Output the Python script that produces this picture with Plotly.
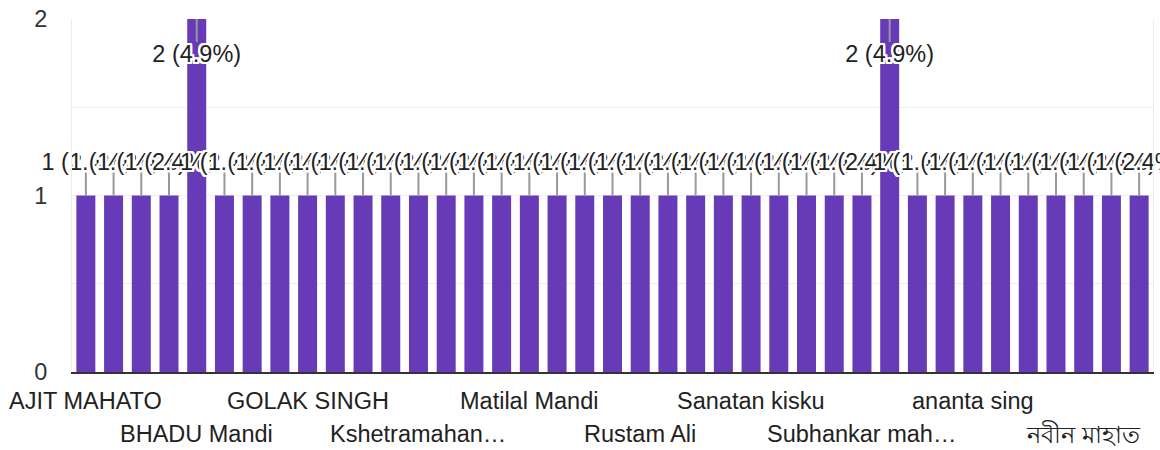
import plotly.graph_objects as go

# ---- data ----
names = [
    "AJIT MAHATO", "AMAL MANDI", "ANIL HANSDA", "ASHOK MAHATO",
    "BHADU Mandi", "BIMAL MURMU", "BISWANATH SOREN", "DILIP MAHATO",
    "GOLAK SINGH", "GOPAL MANDI", "HARIPADA MAHATO", "JAGANNATH HANSDA",
    "Kshetramahan Mahato", "LAKSHMAN MURMU", "Mangal Soren", "Manik Mahato",
    "Matilal Mandi", "Nirmal Hansda", "Paresh Mahato", "Ramesh Murmu",
    "Rustam Ali", "Sahadeb Mandi", "Samir Mahato", "Sanatan Hansda",
    "Sanatan kisku", "Shyamal Mahato", "Sonaram Murmu", "Sridam Mandi",
    "Subhankar mahato", "Sudhir Mahato", "Sukumar Hansda", "Tapan Mandi",
    "ananta sing", "bablu mahato", "gurupada mandi", "sanjit murmu",
    "নবীন মাহাত", "পরেশ মুর্মু", "রমেশ মাণ্ডি",
]
counts = [
    1, 1, 1, 1, 2, 1, 1, 1, 1, 1, 1, 1, 1, 1, 1, 1, 1, 1, 1, 1,
    1, 1, 1, 1, 1, 1, 1, 1, 1, 2, 1, 1, 1, 1, 1, 1, 1, 1, 1,
]
total_responses = 41
tick_names = ["AJIT MAHATO", "BHADU Mandi", "GOLAK SINGH", "Kshetramahan…",
              "Matilal Mandi", "Rustam Ali", "Sanatan kisku", "Subhankar mah…",
              "ananta sing", "নবীন মাহাত"]
tick_positions = [0, 4, 8, 12, 16, 20, 24, 28, 32, 36]
y_ticks = [0, 0.5, 1, 1.5, 2]
y_ticktext = ["0", "", "1", "", "2"]

PURPLE = "#673AB7"
FONT = "Liberation Sans, Arial, sans-serif"
FS = 23.5
ymax = max(counts)

labels = [f"{c} ({c / total_responses * 100:.1f}%)" for c in counts]

fig = go.Figure()
fig.add_trace(go.Bar(x=names, y=counts, marker=dict(color=PURPLE, line=dict(width=0)),
                     hoverinfo="skip"))

# stems and label positions (outside for short bars, flipped inside for bars reaching the top)
stem_x, stem_y, lab_x, lab_y, lab_t = [], [], [], [], []
STEM = 0.13
LAB_OUT = 0.18
LAB_IN = 0.212
for n, c, t in zip(names, counts, labels):
    if c >= ymax:
        stem_x += [n, n, None]
        stem_y += [c, c - STEM, None]
        lab_x.append(n); lab_y.append(c - LAB_IN); lab_t.append(t)
    else:
        stem_x += [n, n, None]
        stem_y += [c, c + STEM, None]
        lab_x.append(n); lab_y.append(c + LAB_OUT); lab_t.append(t)

fig.add_trace(go.Scatter(x=stem_x, y=stem_y, mode="lines",
                         line=dict(color="#999999", width=2),
                         hoverinfo="skip", cliponaxis=False))
halo = ", ".join(f"{dx}px {dy}px 0 #fff" for dx in (-2, -1, 0, 1, 2) for dy in (-2, -1, 0, 1, 2))
fig.add_trace(go.Scatter(x=lab_x, y=lab_y, mode="text", text=lab_t,
                         textposition="middle center",
                         textfont=dict(family=FONT, size=FS, color="#222222", shadow=halo),
                         hoverinfo="skip", cliponaxis=False))

for i, (p, t) in enumerate(zip(tick_positions, tick_names)):
    fig.add_annotation(x=names[p], xref="x", y=0, yref="paper", yanchor="middle",
                       yshift=-29 if i % 2 == 0 else -62, showarrow=False, text=t,
                       font=dict(family=FONT, size=FS, color="#222222"))

fig.update_layout(
    width=1160, height=450,
    margin=dict(l=72, r=6, t=15, b=78),
    paper_bgcolor="white", plot_bgcolor="white",
    showlegend=False, bargap=0.315,
    font=dict(family=FONT, size=FS, color="#222222"),
    xaxis=dict(type="category", showticklabels=False, showgrid=False, zeroline=False,
               range=[-0.5, len(names) - 0.5],
               showline=True, linecolor="#333333", linewidth=2, ticks=""),
    yaxis=dict(range=[0, 2], tickvals=y_ticks, ticktext=y_ticktext, showgrid=True,
               gridcolor="#eeeeee", gridwidth=1, zeroline=False,
               showline=True, mirror=True, linecolor="#eeeeee", linewidth=1,
               ticks="", ticklabelstandoff=19, ticklabeloverflow="allow",
               tickfont=dict(family=FONT, size=FS, color="#333333")),
)

fig.write_html("out.html", config={"displayModeBar": False},
               post_script="document.body.style.margin='0';document.body.style.overflow='hidden';")
